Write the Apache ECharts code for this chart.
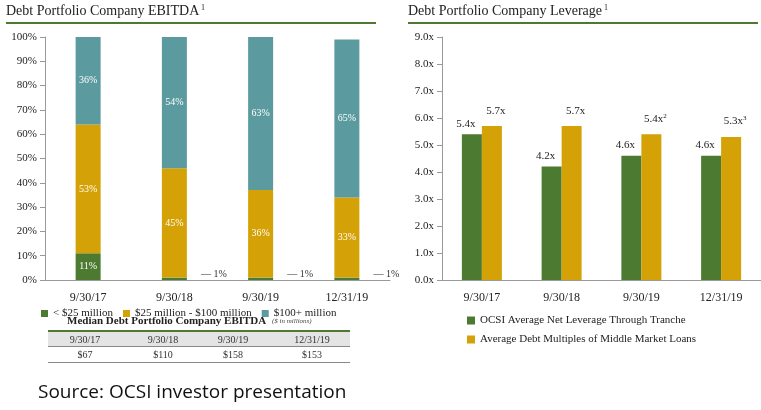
<!DOCTYPE html>
<html><head><meta charset="utf-8">
<script src="https://cdn.jsdelivr.net/npm/echarts@6/dist/echarts.min.js"></script>
<style>html,body{margin:0;padding:0;background:#fff}#c{width:761px;height:410px}</style>
</head><body><div id="c"></div>
<script>
const categories = ['9/30/17','9/30/18','9/30/19','12/31/19'];
const under25 = [11, 1, 1, 1];
const mid25to100 = [53, 45, 36, 33];
const over100 = [36, 54, 63, 65];
const medianEbitda = ['$67','$110','$158','$153'];
const ocsiLeverage = [5.4, 4.2, 4.6, 4.6];
const marketLeverage = [5.7, 5.7, 5.4, 5.3];
const marketSup = ['', '', '2', '3'];

const G='#4b7a30', Y='#d4a106', T='#5b9a9e';
const F='Liberation Serif';
const chart = echarts.init(document.getElementById('c'));

const greenData = under25.map((v,i)=> i===0 ? {value:v, label:{show:true, position:'inside', color:'#fff'}} :
  {value:v, label:{show:true, position:'right', distance:2, formatter:'— {c}%', color:'#333', offset:[12,-4]}});

const tableTexts = [];
const colX=[85,163,233,312];
categories.forEach((c,i)=>{
  tableTexts.push({type:'text', x:colX[i], y:335, style:{text:c, font:'10px '+F, fill:'#333', align:'center'}});
  tableTexts.push({type:'text', x:colX[i], y:350, style:{text:medianEbitda[i], font:'10px '+F, fill:'#333', align:'center'}});
});

chart.setOption({
  animation:false,
  textStyle:{fontFamily:F},
  grid:[{left:45, top:37, width:345, height:243},{left:442, top:37, width:328, height:243}],
  xAxis:[
    {gridIndex:0, type:'category', data:categories, axisTick:{show:false}, axisLine:{lineStyle:{color:'#999'}}, axisLabel:{color:'#222', fontSize:12, fontFamily:F, margin:12}},
    {gridIndex:1, type:'category', data:categories, axisTick:{show:false}, axisLine:{lineStyle:{color:'#999'}}, axisLabel:{color:'#222', fontSize:12, fontFamily:F, margin:12}}
  ],
  yAxis:[
    {gridIndex:0, min:0, max:100, interval:10, axisLine:{show:true, lineStyle:{color:'#999'}}, axisTick:{show:true}, splitLine:{show:false}, axisLabel:{formatter:'{value}%', color:'#222', fontSize:11, fontFamily:F}},
    {gridIndex:1, min:0, max:9, interval:1, axisLine:{show:true, lineStyle:{color:'#999'}}, axisTick:{show:true}, splitLine:{show:false}, axisLabel:{formatter:v=>v.toFixed(1)+'x', color:'#222', fontSize:11, fontFamily:F}}
  ],
  legend:[
    {data:['< $25 million','$25 million - $100 million','$100+ million'], left:36, top:303, itemWidth:7, itemHeight:7, itemGap:10, icon:'rect', textStyle:{fontFamily:F, fontSize:11, color:'#222'}},
    {data:['OCSI Average Net Leverage Through Tranche','Average Debt Multiples of Middle Market Loans'], orient:'vertical', left:462, top:310, itemWidth:8, itemHeight:8, itemGap:8, icon:'rect', textStyle:{fontFamily:F, fontSize:11, color:'#222'}}
  ],
  series:[
    {name:'< $25 million', type:'bar', stack:'a', xAxisIndex:0, yAxisIndex:0, barWidth:25, data:greenData, itemStyle:{color:G}, label:{fontSize:10, formatter:'{c}%'}},
    {name:'$25 million - $100 million', type:'bar', stack:'a', xAxisIndex:0, yAxisIndex:0, data:mid25to100, itemStyle:{color:Y}, label:{show:true, position:'inside', color:'#fff', fontSize:10, formatter:'{c}%'}},
    {name:'$100+ million', type:'bar', stack:'a', xAxisIndex:0, yAxisIndex:0, data:over100, itemStyle:{color:T}, label:{show:true, position:'inside', color:'#fff', fontSize:10, formatter:'{c}%'}},
    {name:'OCSI Average Net Leverage Through Tranche', type:'bar', xAxisIndex:1, yAxisIndex:1, barWidth:20, barGap:'0%', data:ocsiLeverage, itemStyle:{color:G},
      label:{show:true, position:'top', color:'#222', fontSize:11, formatter:p=>p.value.toFixed(1)+'x', offset:[-6,0]}},
    {name:'Average Debt Multiples of Middle Market Loans', type:'bar', xAxisIndex:1, yAxisIndex:1, barWidth:20, data:marketLeverage, itemStyle:{color:Y},
      label:{show:true, position:'top', color:'#222', fontSize:11, offset:[4,-4], formatter:p=>p.value.toFixed(1)+'x'+(marketSup[p.dataIndex]?'{s|'+marketSup[p.dataIndex]+'}':''), rich:{s:{fontSize:7, verticalAlign:'top', padding:[0,0,6,0]}}}}
  ],
  graphic:[
    {type:'text', left:6, top:4, style:{text:'Debt Portfolio Company EBITDA', font:'14px '+F, fill:'#222'}},
    {type:'text', left:201, top:4, style:{text:'1', font:'8px '+F, fill:'#222'}},
    {type:'rect', shape:{x:6, y:22, width:370, height:2}, style:{fill:G}},
    {type:'text', left:408, top:4, style:{text:'Debt Portfolio Company Leverage', font:'14px '+F, fill:'#222'}},
    {type:'text', left:604, top:4, style:{text:'1', font:'8px '+F, fill:'#222'}},
    {type:'rect', shape:{x:408, y:22, width:350, height:2}, style:{fill:G}},
    {type:'text', left:67, top:316, style:{text:'Median Debt Portfolio Company EBITDA', font:'bold 11px '+F, fill:'#222'}},
    {type:'text', left:272, top:318, style:{text:'($ in millions)', font:'italic 7px '+F, fill:'#444'}},
    {type:'rect', shape:{x:48, y:330, width:302, height:2}, style:{fill:G}},
    {type:'rect', shape:{x:48, y:332, width:302, height:14}, style:{fill:'#e4e4e4'}},
    {type:'rect', shape:{x:48, y:346, width:302, height:1}, style:{fill:'#888'}},
    {type:'rect', shape:{x:48, y:362, width:302, height:1}, style:{fill:'#888'}},
    ...tableTexts,
    {type:'text', left:38, top:383, style:{text:'Source: OCSI investor presentation', font:'19px "Open Sans"', fill:'#111'}}
  ]
});
</script></body></html>
